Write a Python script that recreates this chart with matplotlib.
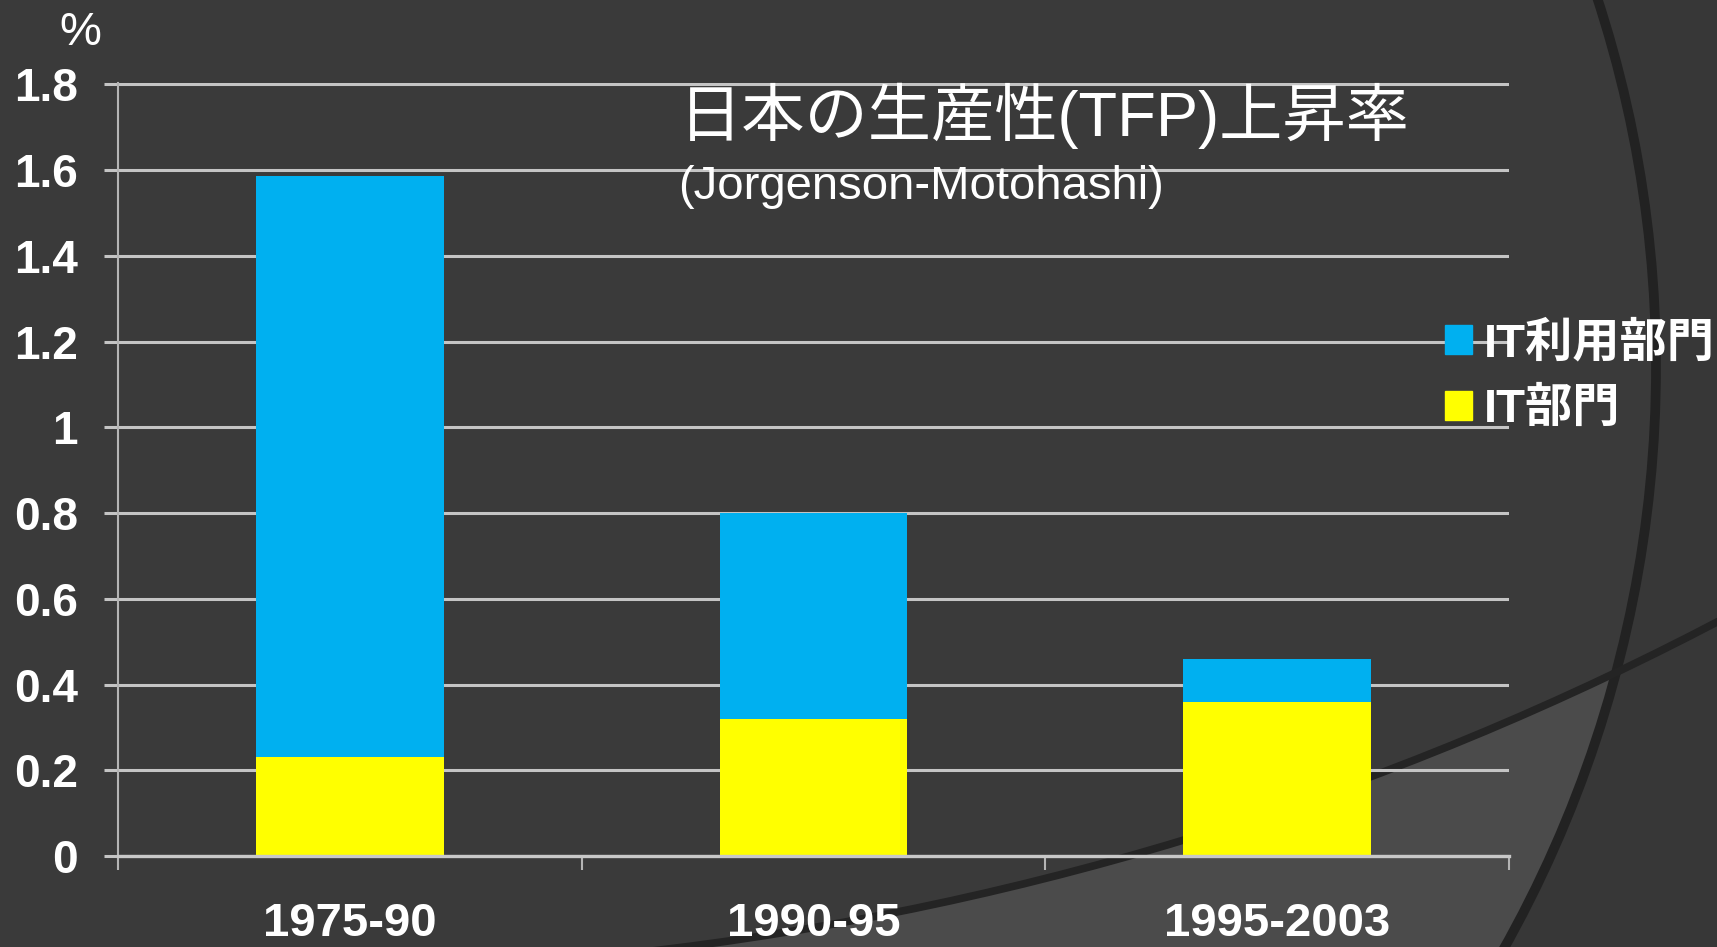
#%%
# TFP growth in Japan - stacked bars on a dark slide background
import numpy as np
import matplotlib.pyplot as plt
from matplotlib.patches import Circle, Patch

plt.rcParams['font.family'] = ['Liberation Sans', 'Noto Sans CJK JP']

# %%
# data
periods = ['1975-90', '1990-95', '1995-2003']
it_sector = [0.23, 0.32, 0.36]       # IT部門
it_using = [1.355, 0.48, 0.10]       # IT利用部門
yticks = [0, 0.2, 0.4, 0.6, 0.8, 1.0, 1.2, 1.4, 1.6, 1.8]
ytick_labels = ['0', '0.2', '0.4', '0.6', '0.8', '1', '1.2', '1.4', '1.6', '1.8']

blue = '#00b0f0'
yellow = '#ffff00'
bg_col = '#3a3a3a'

# %%
W, H = 1717, 947
fig = plt.figure(figsize=(W / 100, H / 100), dpi=100)
fig.patch.set_facecolor(bg_col)

# background decoration (slide theme arcs), in pixel coords
bg = fig.add_axes([0, 0, 1, 1], zorder=-1)
bg.set_xlim(0, W)
bg.set_ylim(H, 0)
bg.axis('off')
X, Y = np.meshgrid(np.arange(W) + 0.5, np.arange(H) + 0.5)
in_big = (X - 468) ** 2 + (Y - 367) ** 2 < 1188 ** 2
below_curve = (X - 293) ** 2 + (Y + 2100) ** 2 > 3072 ** 2
shade = np.full((H, W), 58.0)
shade[~in_big] = 55.0
shade[in_big & below_curve] = 75.0
bg.imshow(shade, cmap='gray', vmin=0, vmax=255, extent=(0, W, H, 0),
          interpolation='nearest', aspect='auto')
bg.add_patch(Circle((468, 367), 1188, fill=False, ec='#222222', lw=7))
bg.add_patch(Circle((293, -2100), 3072, fill=False, ec='#242424', lw=5.5))

# %%
ax = fig.add_axes([118 / W, 1 - 856 / H, (1509 - 118) / W, (856 - 83) / H])
ax.set_facecolor('none')
x = np.arange(len(periods))
b1 = ax.bar(x, it_sector, width=0.405, color=yellow, label='IT部門')
b2 = ax.bar(x, it_using, width=0.405, bottom=it_sector, color=blue,
            label='IT利用部門')

ax.set_xlim(-0.5, 2.5)
ax.set_ylim(0, 1.803)
ax.set_axisbelow(True)
ax.yaxis.grid(True, color='#c4c4c4', lw=2.2)

for s in ['top', 'right']:
    ax.spines[s].set_visible(False)
ax.spines['left'].set_color('#b4b4b4')
ax.spines['left'].set_linewidth(1.5)
ax.spines['bottom'].set_color('#c8c8c8')
ax.spines['bottom'].set_linewidth(2.4)

ax.set_yticks(yticks)
ax.set_yticklabels(ytick_labels)
ax.tick_params(axis='y', length=10, width=2.2, color='#c4c4c4', pad=19,
               labelsize=33, labelcolor='white')
ax.set_xticks(x)
ax.set_xticklabels(periods)
ax.set_xticks([-0.5, 0.5, 1.5, 2.5], minor=True)
ax.tick_params(axis='x', which='major', length=0, pad=33, labelsize=34,
               labelcolor='white')
ax.tick_params(axis='x', which='minor', length=10, width=1.5,
               color='#b4b4b4')
for lab in ax.get_xticklabels() + ax.get_yticklabels():
    lab.set_fontweight('bold')

# titles inside the plot
ax.text(0.403, 0.958, '日本の生産性(TFP)上昇率', transform=ax.transAxes,
        fontsize=45.5, color='white', ha='left', va='center')
ax.text(0.403, 0.865, '(Jorgenson-Motohashi)', transform=ax.transAxes,
        fontsize=34, color='white', ha='left', va='center')
fig.text(80 / W, 1 - 33 / H, '%', fontsize=34, color='white',
         ha='center', va='center')

# legend, blue first
handles = [Patch(color=blue), Patch(color=yellow)]
fig.legend(handles, ['IT利用部門', 'IT部門'], loc='center left',
           bbox_to_anchor=(1445 / W, 1 - 377 / H), frameon=False,
           borderpad=0, borderaxespad=0, handlelength=0.57,
           handleheight=0.57, handletextpad=0.26, labelspacing=0.46,
           prop={'size': 34, 'weight': 'bold'}, labelcolor='white')

fig.savefig('out.png', dpi=100, facecolor=fig.get_facecolor())
